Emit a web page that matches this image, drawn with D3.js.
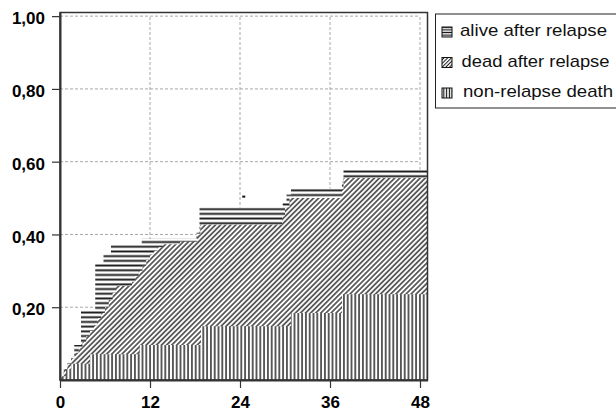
<!DOCTYPE html>
<html>
<head>
<meta charset="utf-8">
<script src="https://cdn.jsdelivr.net/npm/d3@7"></script>
<style>
    html, body { margin: 0; padding: 0; background: #fff; }
    svg { display: block; font-family: "Liberation Sans", Arial, sans-serif; }
</style>
</head>
<body>
<svg id="chart" width="616" height="413"></svg>
<script>
// Axis ticks (months after transplant / cumulative incidence)
const xTicks = [0, 12, 24, 36, 48];
const yTicks = [0.2, 0.4, 0.6, 0.8, 1.0];

// Non-relapse death (bottom band), step points
const nrmMonths = [0, 0.3, 0.8, 1.5, 4.0, 10.6, 18.8, 30.8, 37.6];
const nrmValues = [0, 0.01, 0.03, 0.045, 0.071, 0.096, 0.148, 0.184, 0.236];

// Non-relapse death + dead after relapse (top of diagonal band)
const deadMonths = [0, 0.2, 0.5, 1.0, 1.5, 2.0, 2.5, 3.0, 3.5, 4.0, 4.5, 5.0, 5.5, 6.0, 6.5, 7.0, 7.5,
    9.6, 10.0, 10.5, 11.0, 11.5, 12.0, 12.5, 13.0, 13.7, 16.0, 18.3, 18.7, 29.6, 30.0, 30.6, 37.6, 37.8];
const deadValues = [0, 0.01, 0.03, 0.045, 0.06, 0.075, 0.09, 0.105, 0.12, 0.135, 0.15, 0.17, 0.185, 0.20, 0.22, 0.24, 0.258,
    0.27, 0.285, 0.30, 0.315, 0.33, 0.345, 0.355, 0.365, 0.373, 0.38, 0.40, 0.427, 0.45, 0.475, 0.50, 0.525, 0.555];

// All relapse + non-relapse death (top of horizontal band)
const allMonths = [0, 0.2, 0.5, 1.0, 1.5, 1.9, 2.8, 4.7, 5.8, 6.8, 10.9, 18.2, 18.6, 29.7, 30.2, 30.8, 37.6, 37.8];
const allValues = [0, 0.01, 0.03, 0.05, 0.065, 0.096, 0.19, 0.32, 0.345, 0.373, 0.388, 0.405, 0.474, 0.49, 0.51, 0.526, 0.545, 0.578];

// stray mark in the plot
const strayMark = [24.5, 0.504];

const legendLabels = ["alive after relapse", "dead after relapse", "non-relapse death"];
const legendFills = ["legH", "legD", "legV"];
const legendWidths = [147, 148, 150];

const maxMonth = 49;

const svg = d3.select('#chart');

const x = d3.scaleLinear().domain([0, maxMonth]).range([60, 427.5]);
const y = d3.scaleLinear().domain([0, 1.01]).range([380, 12.5]);

// Hatch patterns
const defs = svg.append('defs');

function linePattern(id, w, h, horizontal, sw, rotate) {
    const p = defs.append('pattern')
        .attr('id', id)
        .attr('patternUnits', 'userSpaceOnUse')
        .attr('width', w)
        .attr('height', h);
    if (rotate) p.attr('patternTransform', `rotate(${rotate})`);
    p.append('rect').attr('width', w).attr('height', h).attr('fill', '#fff');
    if (horizontal) {
        p.append('line').attr('x1', 0).attr('x2', w).attr('y1', h / 2).attr('y2', h / 2)
            .attr('stroke', '#1a1a1a').attr('stroke-width', sw);
    } else {
        p.append('line').attr('x1', w / 2).attr('x2', w / 2).attr('y1', 0).attr('y2', h)
            .attr('stroke', '#1a1a1a').attr('stroke-width', sw);
    }
}

linePattern('hatchH', 10, 4.7, true, 1.9);
linePattern('hatchD', 3.6, 10, false, 1.3, 45);
linePattern('hatchV', 3.8, 10, false, 1.4);
linePattern('legH', 10, 2.6, true, 1.2);
linePattern('legD', 2.6, 10, false, 1.0, 45);
linePattern('legV', 2.8, 10, false, 1.2);

// Gridlines
const grid = svg.append('g');
grid.selectAll('.hgrid')
    .data(yTicks)
    .enter()
    .append('line')
    .attr('x1', x(0))
    .attr('x2', x(48))
    .attr('y1', d => y(d))
    .attr('y2', d => y(d))
    .attr('stroke', '#a8a8a8')
    .attr('stroke-dasharray', '3,2');
grid.selectAll('.vgrid')
    .data(xTicks.slice(1))
    .enter()
    .append('line')
    .attr('x1', d => x(d))
    .attr('x2', d => x(d))
    .attr('y1', y(0))
    .attr('y2', y(1))
    .attr('stroke', '#a8a8a8')
    .attr('stroke-dasharray', '3,2');

// Step areas, drawn from 0 upward; later ones cover earlier
function stepSeries(months, values) {
    const pts = months.map((m, i) => ({ t: m, v: values[i] }));
    pts.push({ t: maxMonth, v: values[values.length - 1] });
    return pts;
}

const area = d3.area()
    .curve(d3.curveStepAfter)
    .x(d => x(d.t))
    .y0(y(0))
    .y1(d => y(d.v));

svg.append('path')
    .datum(stepSeries(allMonths, allValues))
    .attr('d', area)
    .attr('fill', 'url(#hatchH)');

svg.append('path')
    .datum(stepSeries(deadMonths, deadValues))
    .attr('d', area)
    .attr('fill', 'url(#hatchD)');

svg.append('path')
    .datum(stepSeries(nrmMonths, nrmValues))
    .attr('d', area)
    .attr('fill', 'url(#hatchV)');

// stray dash
svg.append('rect')
    .attr('x', x(strayMark[0]) - 1.5)
    .attr('y', y(strayMark[1]) - 1)
    .attr('width', 3)
    .attr('height', 2)
    .attr('fill', '#111');

// Frame
svg.append('rect')
    .attr('x', x(0))
    .attr('y', y(1.01))
    .attr('width', x(maxMonth) - x(0))
    .attr('height', y(0) - y(1.01))
    .attr('fill', 'none')
    .attr('stroke', '#333')
    .attr('stroke-width', 1.5);

// Axes
const fmt = d => d3.format('.2f')(d).replace('.', ',');

const yAxis = svg.append('g')
    .attr('transform', `translate(${x(0)},0)`)
    .call(d3.axisLeft(y).tickValues(yTicks).tickFormat(fmt).tickSize(8).tickPadding(7).tickSizeOuter(0));

const xAxis = svg.append('g')
    .attr('transform', `translate(0,${y(0)})`)
    .call(d3.axisBottom(x).tickValues(xTicks).tickFormat(d3.format('d')).tickSize(8).tickPadding(8).tickSizeOuter(0));

[yAxis, xAxis].forEach(a => {
    a.select('.domain').attr('stroke', '#333').attr('stroke-width', 2);
    a.selectAll('.tick line').attr('stroke', '#333').attr('stroke-width', 1.2);
    a.selectAll('.tick text')
        .attr('fill', '#000')
        .attr('font-family', '"Liberation Sans", Arial, sans-serif')
        .attr('font-weight', 'bold')
        .attr('font-size', '17px');
});
yAxis.selectAll('.tick text').attr('dy', '0.45em');

// Legend
const legend = svg.append('g');
legend.append('rect')
    .attr('x', 435.5)
    .attr('y', 14)
    .attr('width', 200)
    .attr('height', 94)
    .attr('fill', '#fff')
    .attr('stroke', '#222')
    .attr('stroke-width', 1);

legendLabels.forEach((label, i) => {
    const rowY = 27 + i * 30.5;
    legend.append('rect')
        .attr('x', 442)
        .attr('y', rowY)
        .attr('width', 10)
        .attr('height', 10)
        .attr('fill', `url(#${legendFills[i]})`)
        .attr('stroke', '#111')
        .attr('stroke-width', 1);
    legend.append('text')
        .attr('x', 460 + i * 1.5)
        .attr('y', rowY + 9)
        .attr('font-size', '17px')
        .attr('fill', '#111')
        .attr('textLength', legendWidths[i])
        .attr('lengthAdjust', 'spacingAndGlyphs')
        .text(label);
});
</script>
</body>
</html>
